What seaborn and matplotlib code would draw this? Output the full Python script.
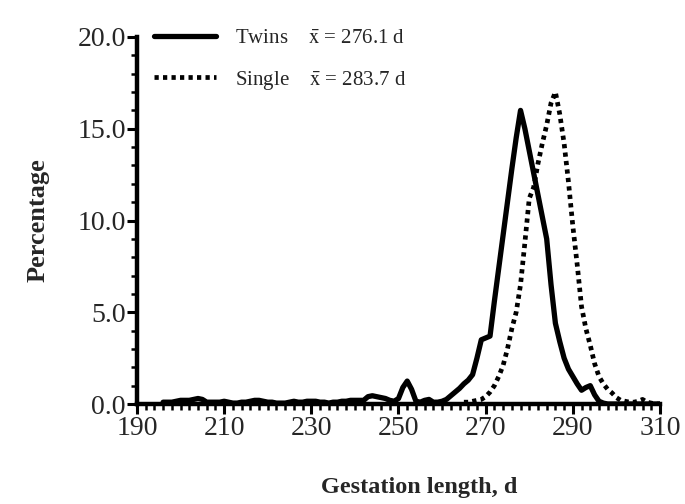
import numpy as np
import pandas as pd
import seaborn as sns
from matplotlib import pyplot as plt
from matplotlib.ticker import MultipleLocator, FormatStrFormatter

# gestation length (days) and percentage per day
twins_days = list(range(196, 311))
twins_pct = [
    0.1, 0.1, 0.1, 0.15, 0.2, 0.2, 0.2, 0.25, 0.3, 0.25,   # 196-205
    0.1, 0.1, 0.1, 0.1, 0.15, 0.1, 0.05, 0.05, 0.1, 0.1,   # 206-215
    0.15, 0.2, 0.2, 0.15, 0.1, 0.1, 0.05, 0.05, 0.05, 0.1, # 216-225
    0.15, 0.1, 0.1, 0.15, 0.15, 0.15, 0.1, 0.1, 0.05, 0.1, # 226-235
    0.1, 0.15, 0.15, 0.2, 0.2, 0.2, 0.2, 0.4, 0.45, 0.4,   # 236-245
    0.35, 0.3, 0.2, 0.15, 0.3, 0.9, 1.25, 0.8, 0.15, 0.1,  # 246-255
    0.2, 0.25, 0.1, 0.1, 0.15, 0.25, 0.45, 0.65, 0.85, 1.1, # 256-265
    1.3, 1.6, 2.5, 3.5, 3.6, 3.7, 5.6, 7.4, 9.2, 11.0,     # 266-275
    12.8, 14.5, 16.0, 15.0, 13.8, 12.6, 11.4, 10.2, 9.0, 6.5, # 276-285
    4.4, 3.4, 2.5, 1.9, 1.5, 1.1, 0.75, 0.9, 1.0, 0.5,     # 286-295
    0.15, 0.05, 0.0, 0.0, 0.0, 0.0, 0.0, 0.0, 0.0, 0.0,    # 296-305
    0.0, 0.0, 0.0, 0.0, 0.0,                               # 306-310
]

single_days = list(range(265, 311))
single_pct = [
    0.1, 0.1, 0.15, 0.2, 0.25, 0.4, 0.65, 1.0, 1.5, 2.1,    # 265-274
    3.0, 4.1, 5.0, 6.5, 8.8, 11.2, 11.8, 13.1, 14.2, 15.2,  # 275-284
    16.4, 17.0, 15.8, 14.2, 12.1, 9.7, 7.6, 5.3, 4.1, 3.2,  # 285-294
    2.2, 1.5, 1.1, 0.8, 0.6, 0.35, 0.2, 0.15, 0.1, 0.1,     # 295-304
    0.15, 0.25, 0.1, 0.05, 0.0, 0.0,                        # 305-310
]

x_ticks = [190, 210, 230, 250, 270, 290, 310]

twins_label = r"Twins    $\bar{\mathrm{x}}$ = 276.1 d"
single_label = r"Single    $\bar{\mathrm{x}}$ = 283.7 d"

twins = pd.DataFrame({"day": twins_days, "pct": twins_pct})
single = pd.DataFrame({"day": single_days, "pct": single_pct})

sns.set_style("ticks")
serif = ["Liberation Serif", "DejaVu Serif"]
plt.rcParams["font.family"] = serif
plt.rcParams["mathtext.fontset"] = "stix"

fig = plt.figure(figsize=(6.85, 5.04), dpi=100)
ax = fig.add_axes([0.2, 0.1984, 0.7635, 0.7282])

sns.lineplot(data=twins, x="day", y="pct", ax=ax, color="black",
             linewidth=3.8, label=twins_label)
sns.lineplot(data=single, x="day", y="pct", ax=ax, color="black",
             linewidth=3.4, linestyle=(0, (0.9, 0.9)), label=single_label)

ax.set_xlim(190, 310)
ax.set_ylim(0, 20)
ax.set_xticks(x_ticks)
ax.xaxis.set_minor_locator(MultipleLocator(2))
ax.yaxis.set_major_locator(MultipleLocator(5))
ax.yaxis.set_minor_locator(MultipleLocator(1))
ax.yaxis.set_major_formatter(FormatStrFormatter("%.1f"))

for s in ["top", "right"]:
    ax.spines[s].set_visible(False)
for s in ["left", "bottom"]:
    ax.spines[s].set_linewidth(3.2)
    ax.spines[s].set_color("black")

ax.tick_params(which="major", length=7, width=2.2, labelsize=20, pad=1, color="black")
ax.tick_params(which="minor", length=4.5, width=1.8, color="black")
ax.tick_params(axis="x", which="major", pad=1.5)

ax.set_xlabel("Gestation length, d", fontsize=17.5, fontweight="bold")
ax.xaxis.set_label_coords(0.539, -0.2)
ax.set_ylabel("Percentage", fontsize=19, fontweight="bold", labelpad=20)

leg = ax.legend(loc="upper left", bbox_to_anchor=(-0.004, 1.075), frameon=False,
                handlelength=3.0, handletextpad=0.9, labelspacing=1.0,
                prop={"family": serif, "size": 15})

plt.savefig("out.png", dpi=100)
